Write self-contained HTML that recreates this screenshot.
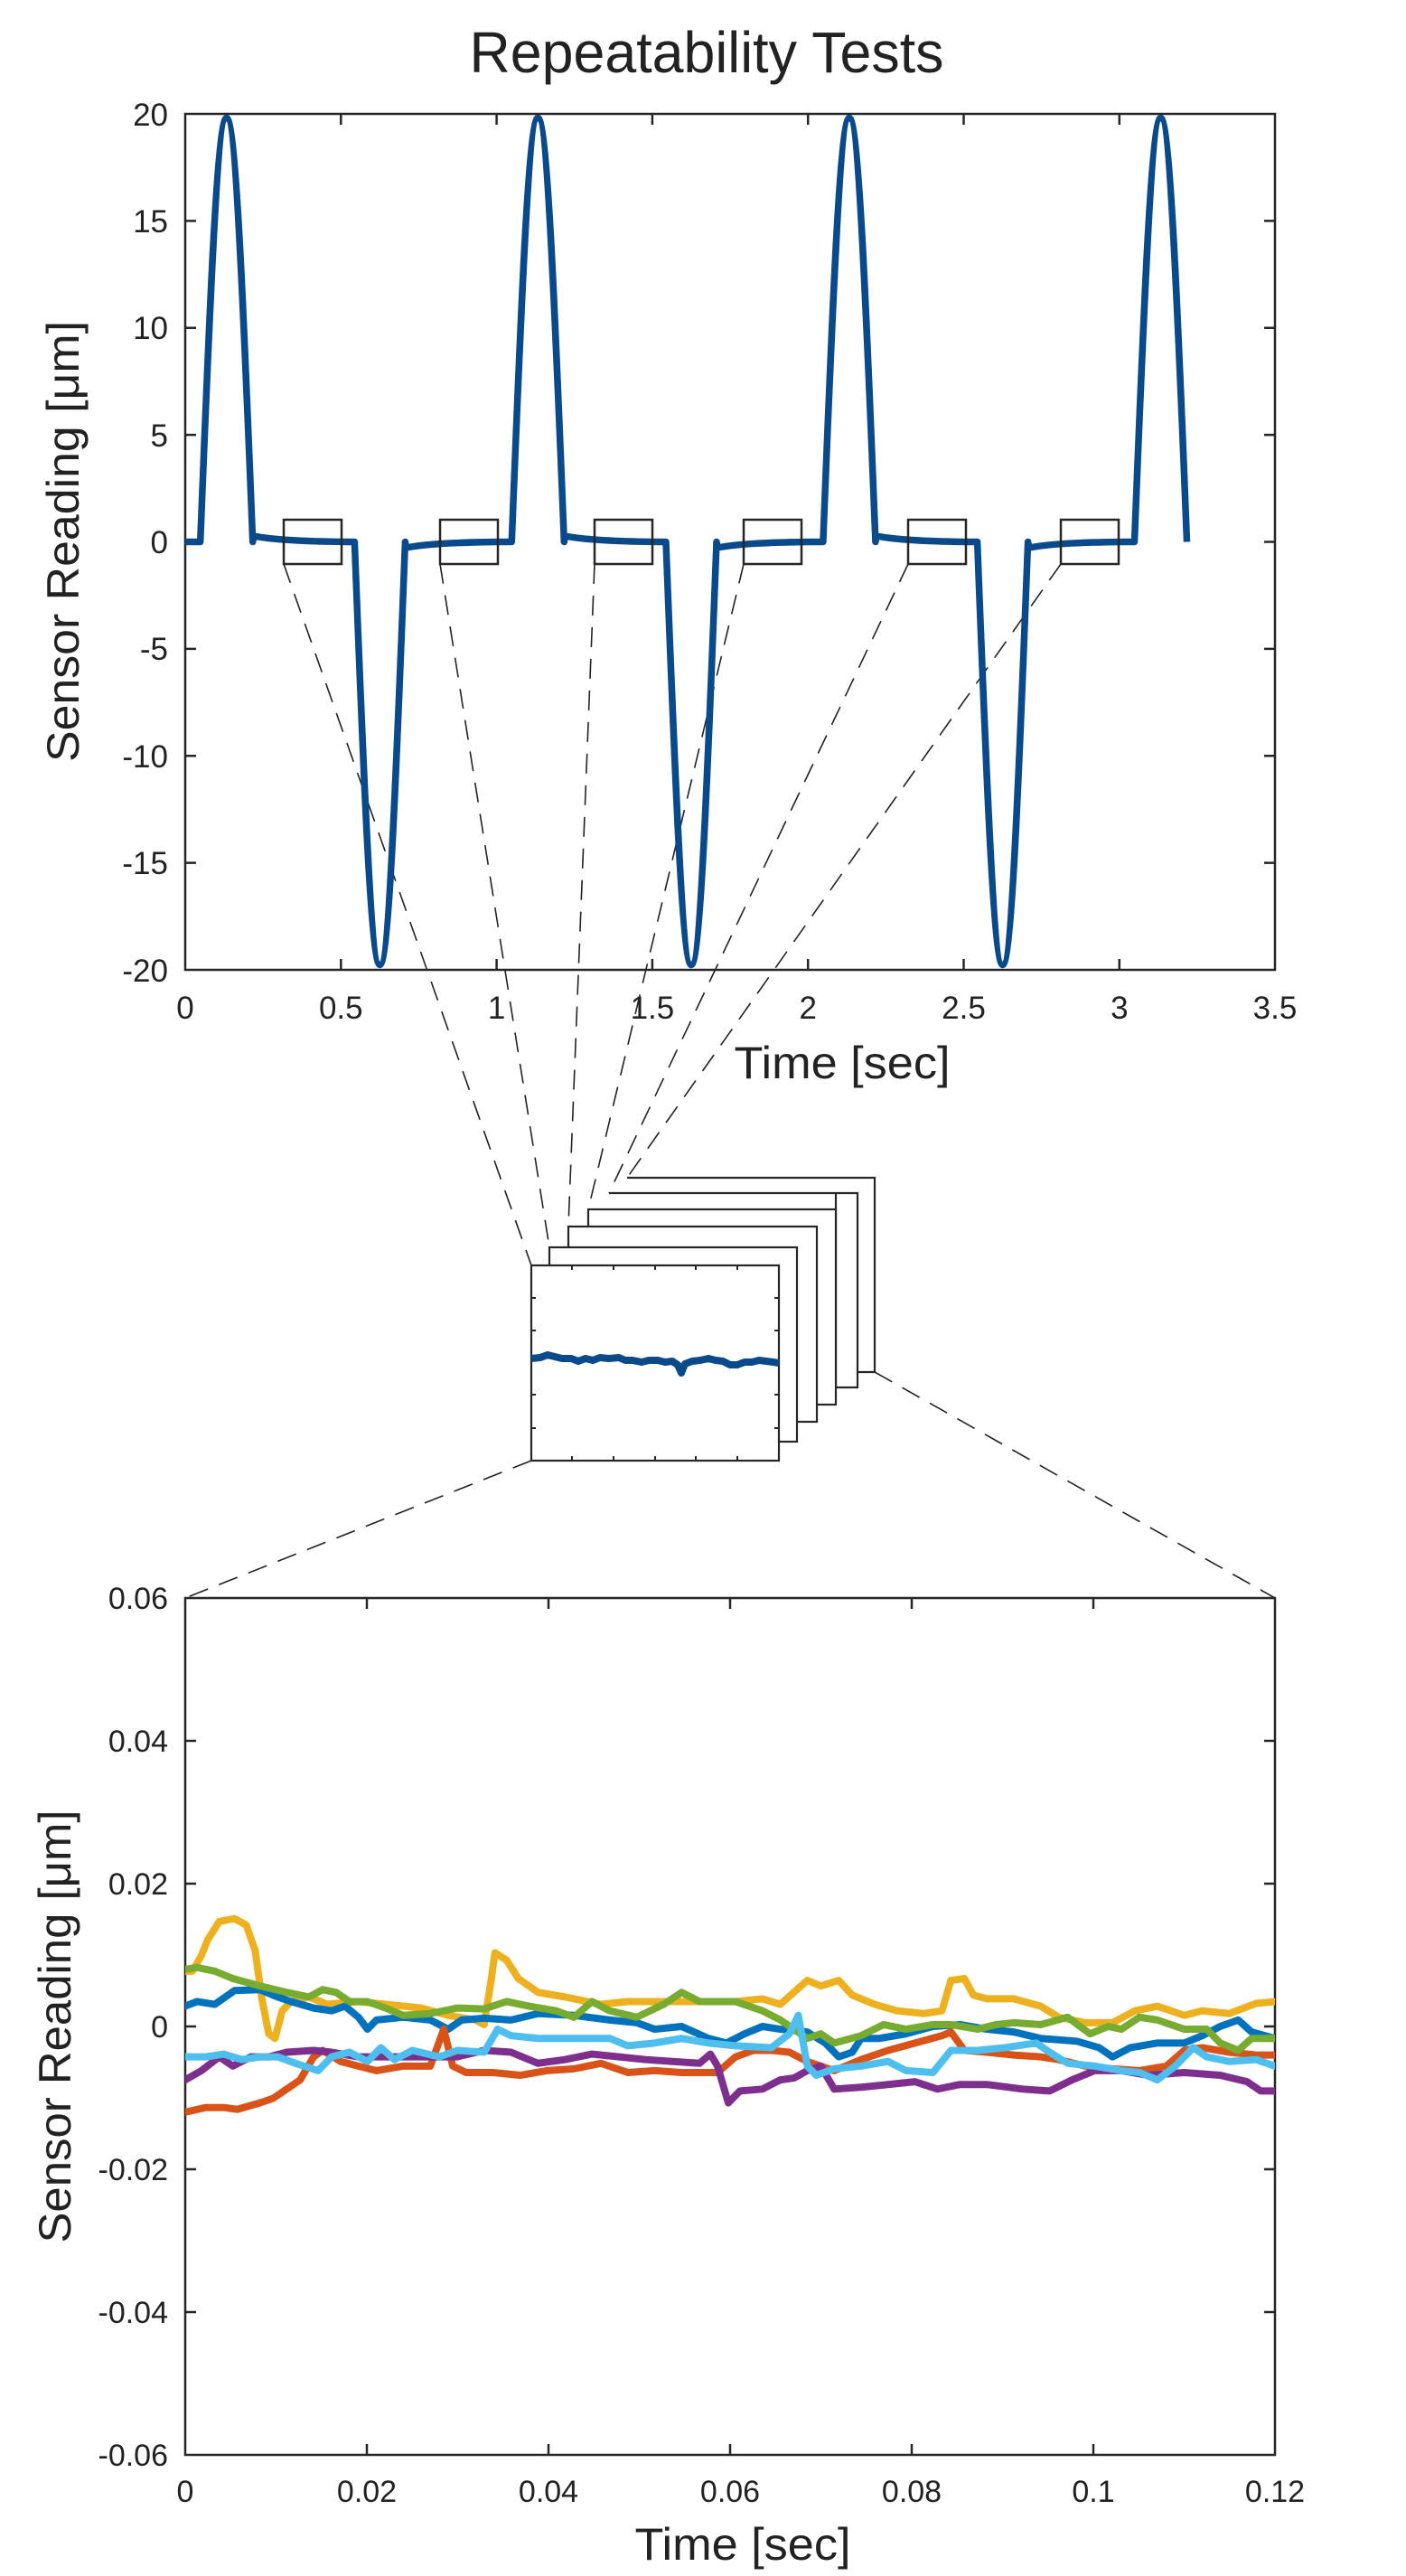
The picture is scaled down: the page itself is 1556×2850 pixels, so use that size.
<!DOCTYPE html>
<html><head><meta charset="utf-8"><style>
html,body{margin:0;padding:0;background:#fff}
svg{display:block}
text{font-family:"Liberation Sans",sans-serif;fill:#222}
</style></head><body>
<svg width="1556" height="2850" viewBox="0 0 1556 2850" xmlns="http://www.w3.org/2000/svg">
<defs>
<clipPath id="cb"><rect x="205" y="1768" width="1206" height="948"/></clipPath>
</defs>
<rect width="1556" height="2850" fill="#fff"/>

<text x="782" y="80" font-size="64" text-anchor="middle" textLength="525" lengthAdjust="spacingAndGlyphs" fill="#111">Repeatability Tests</text>

<g stroke="#222" stroke-width="1.6" stroke-dasharray="22,13" fill="none">
<line x1="314" y1="624" x2="588" y2="1400"/>
<line x1="487" y1="624" x2="608" y2="1380"/>
<line x1="658" y1="624" x2="629" y2="1357"/>
<line x1="823" y1="624" x2="651" y2="1338"/>
<line x1="1005" y1="624" x2="674" y2="1320"/>
<line x1="1174" y1="624" x2="694" y2="1303"/>
<line x1="588" y1="1616" x2="205" y2="1768"/>
<line x1="968" y1="1518" x2="1411" y2="1768"/>
</g>

<g stroke="#262626" stroke-width="2.5" fill="none">
<rect x="205" y="126" width="1206" height="947"/>
<path d="M377.3,1073v-12M549.6,1073v-12M721.9,1073v-12M894.2,1073v-12M1066.5,1073v-12M1238.8,1073v-12
M377.3,126v12M549.6,126v12M721.9,126v12M894.2,126v12M1066.5,126v12M1238.8,126v12
M205,244.4h12M205,362.8h12M205,481.1h12M205,599.5h12M205,717.9h12M205,836.3h12M205,954.6h12
M1411,244.4h-12M1411,362.8h-12M1411,481.1h-12M1411,599.5h-12M1411,717.9h-12M1411,836.3h-12M1411,954.6h-12"/>
</g>
<path fill="none" stroke="#0a4a8a" stroke-width="7.5" stroke-linejoin="round" d="M205,599.5 H221.7
C231.4,353.2 240.2,130.5 250.7,130.5 C261.2,130.5 270,353.2 279.7,599.5 L281,593 C300,597 330,599 385,599.5 H392.4
C401.8,845.2 410.2,1067.5 420.4,1067.5 C430.6,1067.5 439,845.2 448.4,599.5 L449.5,606 C470,602 500,600 555,599.5 H566.3
C576,353.2 584.8,130.5 595.3,130.5 C605.8,130.5 614.6,353.2 624.3,599.5 L625.6,593 C645,597 675,599 730,599.5 H737
C746.4,845.2 754.8,1067.5 765,1067.5 C775.2,1067.5 783.6,845.2 793,599.5 L794,606 C815,602 845,600 900,599.5 H910.9
C920.6,353.2 929.4,130.5 939.9,130.5 C950.4,130.5 959.2,353.2 968.9,599.5 L970,593 C990,597 1020,599 1075,599.5 H1081.6
C1091,845.2 1099.4,1067.5 1109.6,1067.5 C1119.8,1067.5 1128.2,845.2 1137.6,599.5 L1139,606 C1160,602 1190,600 1245,599.5 H1255.5
C1265.2,353.2 1274,130.5 1284.5,130.5 C1295,130.5 1303.8,353.2 1313.5,599.5"/>
<g stroke="#262626" stroke-width="2.5" fill="none">
<rect x="314" y="575" width="64" height="49"/>
<rect x="487" y="575" width="64" height="49"/>
<rect x="658" y="575" width="64" height="49"/>
<rect x="823" y="575" width="64" height="49"/>
<rect x="1005" y="575" width="64" height="49"/>
<rect x="1174" y="575" width="64" height="49"/>
</g>
<g font-size="35" text-anchor="end">
<text x="186" y="139">20</text><text x="186" y="257">15</text><text x="186" y="375">10</text>
<text x="186" y="494">5</text><text x="186" y="612">0</text><text x="186" y="730">-5</text>
<text x="186" y="849">-10</text><text x="186" y="967">-15</text><text x="186" y="1086">-20</text>
</g>
<g font-size="35" text-anchor="middle">
<text x="205" y="1127">0</text><text x="377.3" y="1127">0.5</text><text x="549.6" y="1127">1</text>
<text x="721.9" y="1127">1.5</text><text x="894.2" y="1127">2</text><text x="1066.5" y="1127">2.5</text>
<text x="1238.8" y="1127">3</text><text x="1411" y="1127">3.5</text>
</g>
<text x="932" y="1193" font-size="50" text-anchor="middle" textLength="239" lengthAdjust="spacingAndGlyphs">Time [sec]</text>
<text transform="translate(87,599) rotate(-90)" font-size="50" text-anchor="middle" textLength="488" lengthAdjust="spacingAndGlyphs">Sensor Reading [μm]</text>

<g stroke="#262626" stroke-width="2.2" fill="#fff">
<path d="M694,1303 H968 V1518 H949"/>
<path d="M674,1320 H949 V1535 H925 V1320"/>
<rect x="651" y="1338" width="274" height="216"/>
<rect x="629" y="1357" width="275" height="216"/>
<rect x="608" y="1380" width="274" height="215"/>
<rect x="588" y="1400" width="274" height="216"/>
</g>
<g stroke="#262626" stroke-width="2" fill="none">
<path d="M588,1436h5M588,1472h5M588,1543h5M588,1580h5M862,1436h-5M862,1472h-5M862,1543h-5M862,1580h-5
M633,1616v-5M679,1616v-5M725,1616v-5M770,1616v-5M816,1616v-5M633,1400v5M679,1400v5M725,1400v5M770,1400v5M816,1400v5"/>
</g>
<polyline fill="none" stroke="#0a4a8a" stroke-width="8" stroke-linejoin="round" points="588,1503 598,1502 606,1499 614,1501 622,1503 632,1503 640,1506 648,1503 656,1505 664,1502 674,1503 685,1502 692,1505 700,1505 710,1507 718,1505 728,1505 736,1507 744,1506 750,1510 754,1519 758,1509 766,1506 775,1505 784,1503 792,1505 800,1506 808,1510 816,1510 824,1507 832,1507 840,1505 848,1506 856,1507 862,1508"/>

<g stroke="#262626" stroke-width="2.5" fill="none">
<rect x="205" y="1768" width="1206" height="948"/>
<path d="M406,2716v-12M607,2716v-12M808,2716v-12M1009,2716v-12M1210,2716v-12
M406,1768v12M607,1768v12M808,1768v12M1009,1768v12M1210,1768v12
M205,1926h12M205,2084h12M205,2242h12M205,2400h12M205,2558h12
M1411,1926h-12M1411,2084h-12M1411,2242h-12M1411,2400h-12M1411,2558h-12"/>
</g>
<g clip-path="url(#cb)">
<g transform="translate(205,1768) scale(0.99341,1.01935) translate(-207,-507)" fill="none" stroke-width="8" stroke-linejoin="round" stroke-linecap="round">
<polyline vector-effect="non-scaling-stroke" stroke="#EDB120" points="207,912 215,912 225,895 232,878 245,858 262,855 275,862 285,890 292,940 300,980 307,985 315,955 325,945 345,940 365,948 400,945 430,948 470,952 500,960 530,965 540,970 548,920 552,892 565,900 578,920 600,935 630,940 670,948 700,945 740,945 780,945 820,945 850,942 870,948 885,935 900,922 915,928 935,922 950,938 975,948 1000,955 1030,958 1050,955 1060,922 1075,920 1085,938 1100,942 1130,942 1160,950 1180,962 1210,968 1240,968 1265,955 1290,950 1320,960 1340,955 1370,958 1400,947 1421,945"/>
<polyline vector-effect="non-scaling-stroke" stroke="#0072BD" points="207,950 220,945 240,948 262,933 290,932 310,940 325,945 350,952 370,955 385,950 400,962 410,975 420,965 450,962 480,965 500,975 515,965 540,963 570,965 600,958 640,960 680,965 710,968 730,975 760,972 790,985 810,990 830,980 850,972 870,975 900,978 920,990 935,1005 950,1000 960,985 980,985 1010,980 1040,972 1070,970 1100,975 1130,978 1160,985 1200,988 1225,995 1240,1005 1260,995 1290,990 1320,990 1340,982 1360,972 1380,965 1395,978 1421,985"/>
<polyline vector-effect="non-scaling-stroke" stroke="#D95319" points="207,1065 230,1060 250,1060 265,1062 290,1055 305,1050 320,1040 335,1030 350,1005 360,998 380,1010 400,1015 420,1020 450,1015 480,1015 495,975 505,1015 520,1022 550,1022 580,1025 610,1020 640,1018 670,1012 700,1022 730,1020 760,1022 800,1022 820,1005 840,998 860,998 880,1000 900,1010 930,1020 960,1008 990,998 1020,990 1050,982 1060,978 1075,998 1100,1000 1130,1003 1160,1005 1180,1008 1210,1015 1240,1018 1270,1020 1300,1015 1320,998 1340,995 1370,1000 1400,1003 1421,1003"/>
<polyline vector-effect="non-scaling-stroke" stroke="#7E2F8E" points="207,1030 225,1020 245,1005 260,1015 280,1005 300,1005 320,1000 350,998 370,1000 400,1005 440,1005 480,1005 510,1005 540,998 570,1000 600,1012 630,1008 660,1002 690,1005 720,1008 750,1010 780,1012 792,1002 800,1015 812,1055 825,1042 850,1040 870,1030 885,1028 900,1020 915,1015 930,1040 960,1038 990,1035 1020,1032 1045,1040 1070,1035 1100,1035 1140,1040 1170,1042 1195,1030 1220,1020 1250,1020 1280,1025 1320,1022 1360,1025 1390,1032 1405,1042 1421,1042"/>
<polyline vector-effect="non-scaling-stroke" stroke="#77AC30" points="207,910 220,908 240,912 260,920 290,928 320,935 345,940 360,932 375,935 390,945 410,945 430,952 450,960 480,958 510,952 540,953 565,945 590,950 620,955 640,962 660,945 680,955 710,962 740,948 760,935 780,945 820,945 850,955 870,965 885,975 900,985 915,980 930,990 960,982 985,970 1010,975 1040,970 1060,970 1090,975 1110,970 1130,968 1160,970 1190,962 1215,980 1235,972 1250,975 1270,962 1290,965 1320,975 1345,975 1360,990 1380,998 1395,985 1421,985"/>
<polyline vector-effect="non-scaling-stroke" stroke="#4DBEEE" points="207,1005 230,1005 250,1002 270,1008 290,1005 310,1005 330,1012 355,1020 370,1005 390,1000 410,1010 425,995 440,1008 460,998 490,1005 510,998 540,1000 555,975 570,982 600,985 640,985 680,985 700,993 730,990 760,985 790,990 820,993 860,995 880,980 890,960 900,1015 910,1025 930,1018 960,1015 990,1010 1010,1020 1040,1022 1060,998 1090,998 1120,995 1155,990 1170,1000 1190,1012 1220,1015 1250,1020 1270,1022 1290,1030 1310,1015 1330,995 1345,1005 1370,1010 1400,1008 1421,1015"/>
</g>
</g>
<g font-size="34" text-anchor="end">
<text x="186" y="1780">0.06</text><text x="186" y="1938">0.04</text><text x="186" y="2096">0.02</text>
<text x="186" y="2254">0</text><text x="186" y="2412">-0.02</text><text x="186" y="2570">-0.04</text><text x="186" y="2728">-0.06</text>
</g>
<g font-size="34" text-anchor="middle">
<text x="205" y="2768">0</text><text x="406" y="2768">0.02</text><text x="607" y="2768">0.04</text>
<text x="808" y="2768">0.06</text><text x="1009" y="2768">0.08</text><text x="1210" y="2768">0.1</text><text x="1411" y="2768">0.12</text>
</g>
<text x="822" y="2832" font-size="50" text-anchor="middle" textLength="239" lengthAdjust="spacingAndGlyphs">Time [sec]</text>
<text transform="translate(78,2242) rotate(-90)" font-size="50" text-anchor="middle" textLength="479" lengthAdjust="spacingAndGlyphs">Sensor Reading [μm]</text>
</svg>
</body></html>
